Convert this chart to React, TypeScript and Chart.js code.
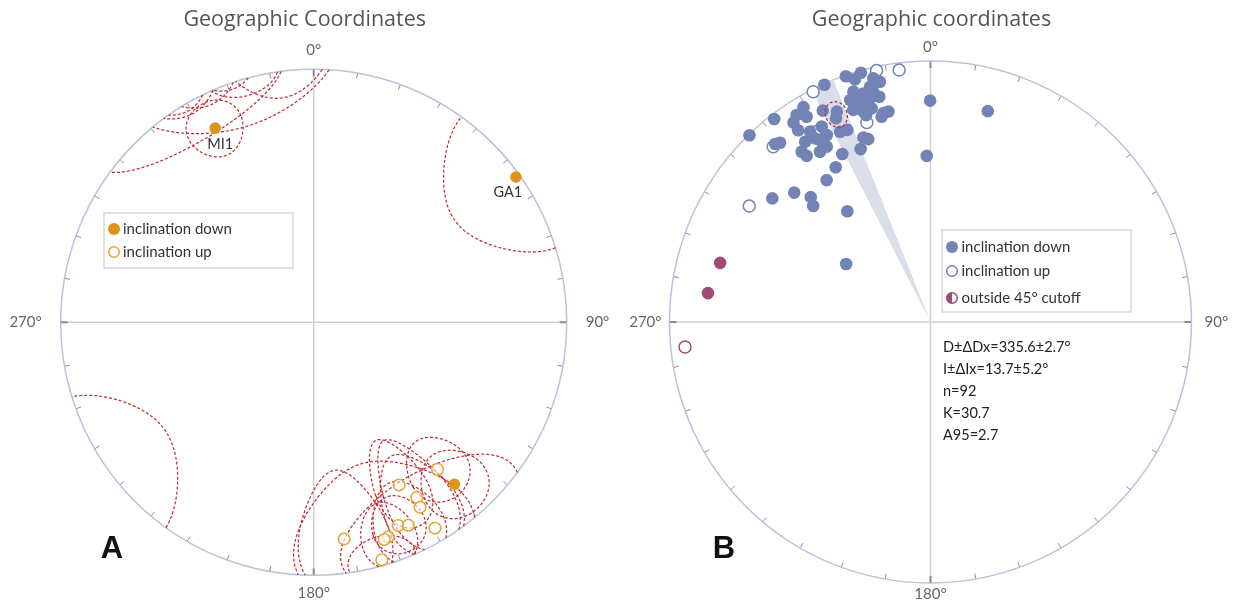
import React, { useEffect, useRef } from "react";
import { Chart, registerables } from "chart.js";
Chart.register(...registerables);

// ---------------- DATA ----------------
// Panel A: site mean directions (declination, inclination) with ΔD / ΔI confidence ellipses
const siteNamesA = ["MI1", "GA1", "", "", "", "", "", "", "", "", "", "", "", ""];
const siteDecA = [333.1, 54.3, 139.0, 139.9, 152.3, 149.5, 150.1, 157.4, 155.0, 149.5, 160.8, 162.0, 172.0, 164.0];
const siteIncA = [15.0, 1.8, 16.3, -25.0, -28.2, -20.8, -16.8, -14.1, -12.5, -6.2, -11.2, -10.7, -14.6, -2.6];
const siteDeltaDA = [7.5, 18.6, 9, 9, 8, 9, 10, 7, 9, 24, 7, 23, 12, 8];
const siteDeltaIA = [11.5, 30, 14, 13, 18, 24, 22, 12, 18, 23, 14, 30, 26, 10];

// Panel B: specimen directions inside the 45° cutoff, inclination down
const downDecB = [359.9, 15.2, 358.7, 341.0, 344.4, 335.9, 322.4, 315.9, 329.4, 333.0, 336.0, 335.1, 325.5, 328.9, 325.4, 320.0, 318.9, 330.9, 331.0, 327.8, 325.2, 322.9, 323.3, 327.0, 329.4, 334.6, 336.6, 340.0, 341.2, 338.0, 332.3, 328.5, 323.8, 308.0, 313.5, 316.2, 314.7, 323.1, 342.7, 346.8, 348.1, 345.6, 341.5, 343.6, 346.0, 347.2, 340.1, 341.4, 343.7, 344.6, 340.0, 342.3, 347.3, 348.7, 346.6, 342.7, 345.4, 341.9, 304.5, 327.7, 328.7, 327.1];
const downIncB = [16.3, 17.4, 36.5, 0.5, 1.0, 0.5, 2.1, 0.4, 4.9, 10.0, 12.8, 15.1, 8.1, 9.0, 11.7, 11.3, 10.4, 15.4, 19.2, 18.0, 17.0, 19.3, 21.7, 23.3, 23.0, 20.4, 20.9, 25.7, 26.9, 29.3, 28.1, 31.1, 33.1, 24.1, 28.8, 34.1, 36.9, 45.9, 3.0, 4.6, 6.6, 7.7, 7.7, 9.6, 10.0, 12.5, 10.5, 12.6, 13.8, 16.2, 14.6, 16.5, 19.1, 18.9, 20.3, 18.1, 11.8, 10.1, 57.8, 14.8, 19.5, 6.2];
// inclination up
const upDecB = [352.9, 347.9, 333.0, 342.3, 318.1, 302.6, 328.7];
const upIncB = [-3.1, -1.7, -1.1, -20.9, -10.7, -18.7, -15.8];
// outside the 45° cutoff
const outDecB = [285.7, 277.4, 264.2];
const outIncB = [17.4, 15.1, -6.1];

// Panel B mean statistics
const meanDec = 335.6;
const meanInc = 13.7;
const deltaDx = 2.7;
const deltaIx = 5.2;
const nB = 92;
const kB = 30.7;
const a95B = 2.7;

const directionLabels = ["0°", "90°", "180°", "270°"];
const titleA = "Geographic Coordinates";
const titleB = "Geographic coordinates";

// ---------------- HELPERS ----------------
const D2R = Math.PI / 180;
type P = { x: number; y: number };
function project(dec: number, inc: number): P {
  const r = Math.sqrt(Math.max(0, 1 - Math.sin(Math.abs(inc) * D2R)));
  return { x: r * Math.sin(dec * D2R), y: r * Math.cos(dec * D2R) };
}

function ellipseSegments(D: number, I: number, dD: number, dI: number, steps = 720): P[][] {
  const side0 = I >= 0;
  const segs: { same: boolean; pts: P[] }[] = [];
  let cur: P[] = [];
  let prev: { dec: number; inc: number; same: boolean } | null = null;
  for (let k = 0; k <= steps; k++) {
    const t = (2 * Math.PI * k) / steps;
    const dec = D + dD * Math.cos(t);
    const inc = I + dI * Math.sin(t);
    const same = (inc >= 0) === side0;
    if (prev && same !== prev.same) {
      const f = prev.inc / (prev.inc - inc);
      const dc = prev.dec + f * (dec - prev.dec);
      cur.push(project(dc + (prev.same ? 0 : 180), 0));
      segs.push({ same: prev.same, pts: cur });
      cur = [project(dc + (same ? 0 : 180), 0)];
    }
    cur.push(project(dec + (same ? 0 : 180), inc));
    prev = { dec, inc, same };
  }
  segs.push({ same: prev!.same, pts: cur });
  if (segs.length > 1 && segs[0].same === segs[segs.length - 1].same) {
    const last = segs.pop()!;
    segs[0].pts = last.pts.concat(segs[0].pts);
  }
  return segs.map((s) => s.pts);
}

// ---------------- STYLE ----------------
const FONT = "Lato, 'Open Sans', sans-serif";
const TITLE_FONT = "'Open Sans', Lato, sans-serif";
const RED = "#c3262e";
const ORANGE = "#dd9519";
const ORANGE_OPEN = "#e3a534";
const BLUE = "#7483b5";
const PURPLE = "#9d4b77";
const PRIMITIVE = "#bac2db";

function dashedLine(pts: P[], order = 5) {
  return {
    type: "scatter" as const,
    data: pts,
    showLine: true,
    borderColor: RED,
    borderWidth: 1.2,
    borderDash: [3, 2],
    pointRadius: 0,
    fill: false,
    tension: 0,
    clip: false as any,
    order,
  };
}

function baseOptions(padding: any) {
  return {
    animation: false as const,
    responsive: false,
    maintainAspectRatio: false,
    events: [] as any[],
    layout: { padding },
    scales: {
      x: { type: "linear" as const, min: -1, max: 1, display: false },
      y: { type: "linear" as const, min: -1, max: 1, display: false },
    },
    plugins: { legend: { display: false }, tooltip: { enabled: false }, title: { display: false } },
  };
}

function geom(chart: any) {
  const xs = chart.scales.x;
  const ys = chart.scales.y;
  const cx = xs.getPixelForValue(0);
  const cy = ys.getPixelForValue(0);
  const R = xs.getPixelForValue(1) - cx;
  const px = (p: P) => ({ x: xs.getPixelForValue(p.x), y: ys.getPixelForValue(p.y) });
  return { cx, cy, R, px };
}

function drawFrame(chart: any) {
  const { ctx } = chart;
  const { cx, cy, R } = geom(chart);
  ctx.save();
  ctx.strokeStyle = "#d0d0d0";
  ctx.lineWidth = 1.5;
  ctx.beginPath();
  ctx.moveTo(cx - R, cy);
  ctx.lineTo(cx + R, cy);
  ctx.moveTo(cx, cy - R);
  ctx.lineTo(cx, cy + R);
  ctx.stroke();
  ctx.strokeStyle = PRIMITIVE;
  ctx.lineWidth = 1.5;
  ctx.beginPath();
  ctx.arc(cx, cy, R, 0, Math.PI * 2);
  ctx.stroke();
  for (let k = 0; k < 36; k++) {
    const a = k * 10 * D2R;
    const card = k % 9 === 0;
    const len = card ? 7 : 5.5;
    const sx = Math.sin(a), sy = -Math.cos(a);
    ctx.strokeStyle = card ? "#8c8c8c" : "#8f8f8f";
    ctx.lineWidth = card ? 2 : 1;
    ctx.beginPath();
    ctx.moveTo(cx + sx * (R - 0.5), cy + sy * (R - 0.5));
    ctx.lineTo(cx + sx * (R - len), cy + sy * (R - len));
    ctx.stroke();
  }
  ctx.restore();
}

function drawText(ctx: any, text: string, x: number, y: number, font: string, color: string, align: CanvasTextAlign = "left") {
  ctx.save();
  ctx.font = font;
  ctx.fillStyle = color;
  ctx.textAlign = align;
  ctx.textBaseline = "middle";
  ctx.fillText(text, x, y);
  ctx.restore();
}

function drawBox(ctx: any, x: number, y: number, w: number, h: number) {
  ctx.save();
  ctx.fillStyle = "#ffffff";
  ctx.fillRect(x, y, w, h);
  ctx.strokeStyle = "#d9d9d9";
  ctx.lineWidth = 1.5;
  ctx.strokeRect(x, y, w, h);
  ctx.restore();
}

function marker(ctx: any, x: number, y: number, r: number, kind: "fill" | "open" | "half", color: string) {
  ctx.save();
  if (kind === "fill") {
    ctx.fillStyle = color;
    ctx.beginPath();
    ctx.arc(x, y, r, 0, Math.PI * 2);
    ctx.fill();
  } else if (kind === "open") {
    ctx.fillStyle = "#fff";
    ctx.strokeStyle = color;
    ctx.lineWidth = 1.5;
    ctx.beginPath();
    ctx.arc(x, y, r - 0.75, 0, Math.PI * 2);
    ctx.fill();
    ctx.stroke();
  } else {
    ctx.fillStyle = "#fff";
    ctx.beginPath();
    ctx.arc(x, y, r - 0.75, 0, Math.PI * 2);
    ctx.fill();
    ctx.fillStyle = color;
    ctx.beginPath();
    ctx.arc(x, y, r - 0.75, Math.PI / 2, (Math.PI * 3) / 2);
    ctx.closePath();
    ctx.fill();
    ctx.strokeStyle = color;
    ctx.lineWidth = 1.5;
    ctx.beginPath();
    ctx.arc(x, y, r - 0.75, 0, Math.PI * 2);
    ctx.stroke();
  }
  ctx.restore();
}

// ---------------- PANEL A ----------------
const labelOffsetsA: P[] = [{ x: 5, y: 16 }, { x: -8, y: 15 }];

function configA(): any {
  const datasets: any[] = [];
  siteDecA.forEach((d, i) => {
    ellipseSegments(d, siteIncA[i], siteDeltaDA[i], siteDeltaIA[i]).forEach((seg) => datasets.push(dashedLine(seg)));
  });
  const down: P[] = [], up: P[] = [];
  siteDecA.forEach((d, i) => (siteIncA[i] >= 0 ? down : up).push(project(d, siteIncA[i])));
  datasets.push({ type: "scatter", data: up, pointRadius: 5.8, pointBackgroundColor: "rgba(255,255,255,0.6)", pointBorderColor: ORANGE_OPEN, pointBorderWidth: 1.5, clip: false, order: 1 });
  datasets.push({ type: "scatter", data: down, pointRadius: 5.8, pointBackgroundColor: ORANGE, pointBorderColor: ORANGE, pointBorderWidth: 0, clip: false, order: 0 });

  const plugin = {
    id: "frameA",
    beforeDatasetsDraw: (chart: any) => drawFrame(chart),
    afterDatasetsDraw: (chart: any) => {
      const { ctx } = chart;
      const { cx, cy, R, px } = geom(chart);
      const f15 = `15px ${FONT}`;
      drawText(ctx, titleA, cx - 9, 20, `21.5px ${TITLE_FONT}`, "#555", "center");
      drawText(ctx, directionLabels[0], cx, cy - R - 19, f15, "#666", "center");
      drawText(ctx, directionLabels[1], cx + R + 19, cy, f15, "#666", "left");
      drawText(ctx, directionLabels[2], cx, cy + R + 18, f15, "#666", "center");
      drawText(ctx, directionLabels[3], cx - R - 19, cy, f15, "#666", "right");
      siteNamesA.forEach((name, i) => {
        if (!name) return;
        const p = px(project(siteDecA[i], siteIncA[i]));
        const o = labelOffsetsA[i];
        drawText(ctx, name, p.x + o.x, p.y + o.y, `14.5px ${FONT}`, "#333", "center");
      });
      drawBox(ctx, 104, 213, 189, 55);
      marker(ctx, 114, 229, 6, "fill", ORANGE);
      drawText(ctx, "inclination down", 123, 229, f15, "#333");
      marker(ctx, 114, 252, 6, "open", ORANGE_OPEN);
      drawText(ctx, "inclination up", 123, 252, f15, "#333");
      drawText(ctx, "A", 112, 549, `bold 31px 'Liberation Sans', Arial, sans-serif`, "#111", "center");
    },
  };

  return {
    type: "scatter",
    data: { datasets },
    options: baseOptions({ left: 60.7, right: 51.3, top: 69.3, bottom: 30.7 }),
    plugins: [plugin],
  };
}

// ---------------- PANEL B ----------------
function configB(): any {
  const datasets: any[] = [];
  ellipseSegments(meanDec, meanInc, deltaDx, deltaIx).forEach((seg) => datasets.push(dashedLine(seg, 0)));
  const down = downDecB.map((d, i) => project(d, downIncB[i]));
  const up = upDecB.map((d, i) => project(d, upIncB[i]));
  const outDown: P[] = [], outUp: P[] = [];
  outDecB.forEach((d, i) => (outIncB[i] >= 0 ? outDown : outUp).push(project(d, outIncB[i])));
  datasets.push({ type: "scatter", data: down, pointRadius: 6.3, pointBackgroundColor: BLUE, pointBorderColor: BLUE, pointBorderWidth: 0, clip: false, order: 2 });
  datasets.push({ type: "scatter", data: up, pointRadius: 6, pointBackgroundColor: "#fff", pointBorderColor: BLUE, pointBorderWidth: 1.5, clip: false, order: 3 });
  datasets.push({ type: "scatter", data: outDown, pointRadius: 6.3, pointBackgroundColor: PURPLE, pointBorderColor: PURPLE, pointBorderWidth: 0, clip: false, order: 2 });
  datasets.push({ type: "scatter", data: outUp, pointRadius: 6, pointBackgroundColor: "#fff", pointBorderColor: PURPLE, pointBorderWidth: 1.5, clip: false, order: 3 });

  const plugin = {
    id: "frameB",
    beforeDatasetsDraw: (chart: any) => {
      drawFrame(chart);
      const { ctx } = chart;
      const { cx, cy, px } = geom(chart);
      ctx.save();
      ctx.fillStyle = "#d9deea";
      ctx.beginPath();
      ctx.moveTo(cx, cy);
      for (let d = meanDec - deltaDx; d <= meanDec + deltaDx + 1e-9; d += 0.25) {
        const p = px(project(d, 0));
        ctx.lineTo(p.x, p.y);
      }
      ctx.closePath();
      ctx.fill();
      ctx.restore();
    },
    afterDatasetsDraw: (chart: any) => {
      const { ctx } = chart;
      const { cx, cy, R } = geom(chart);
      const f15 = `15px ${FONT}`;
      drawText(ctx, titleB, cx + 1, 20, `21.5px ${TITLE_FONT}`, "#555", "center");
      drawText(ctx, directionLabels[0], cx, cy - R - 14, f15, "#666", "center");
      drawText(ctx, directionLabels[1], cx + R + 13, cy, f15, "#666", "left");
      drawText(ctx, directionLabels[2], cx, cy + R + 11, f15, "#666", "center");
      drawText(ctx, directionLabels[3], cx - R - 8, cy, f15, "#666", "right");
      drawBox(ctx, 324, 230, 189, 82);
      marker(ctx, 334, 247, 6, "fill", BLUE);
      drawText(ctx, "inclination down", 343.5, 247, f15, "#333");
      marker(ctx, 334, 271, 6, "open", BLUE);
      drawText(ctx, "inclination up", 343.5, 271, f15, "#333");
      marker(ctx, 334, 298, 6, "half", PURPLE);
      drawText(ctx, "outside 45° cutoff", 343.5, 298, f15, "#333");
      const lines = [
        `D±ΔDx=${meanDec.toFixed(1)}±${deltaDx.toFixed(1)}°`,
        `I±ΔIx=${meanInc.toFixed(1)}±${deltaIx.toFixed(1)}°`,
        `n=${nB}`,
        `K=${kB.toFixed(1)}`,
        `A95=${a95B.toFixed(1)}`,
      ];
      lines.forEach((t, i) => drawText(ctx, t, 325, 347 + i * 22, `14.5px ${FONT}`, "#222"));
      drawText(ctx, "B", 106, 549, `bold 31px 'Liberation Sans', Arial, sans-serif`, "#111", "center");
    },
  };

  return {
    type: "scatter",
    data: { datasets },
    options: baseOptions({ left: 51.5, right: 45.5, top: 61, bottom: 23 }),
    plugins: [plugin],
  };
}

export default function App() {
  const refA = useRef<HTMLCanvasElement>(null);
  const refB = useRef<HTMLCanvasElement>(null);
  useEffect(() => {
    const a = new Chart(refA.current!, configA());
    const b = new Chart(refB.current!, configB());
    return () => {
      a.destroy();
      b.destroy();
    };
  }, []);
  return (
    <div style={{ position: "absolute", left: 0, top: 0, width: 1237, height: 606, background: "#fff", overflow: "hidden" }}>
      <canvas ref={refA} width={618} height={606} style={{ position: "absolute", left: 0, top: 0, width: 618, height: 606 }} />
      <canvas ref={refB} width={619} height={606} style={{ position: "absolute", left: 618, top: 0, width: 619, height: 606 }} />
    </div>
  );
}
